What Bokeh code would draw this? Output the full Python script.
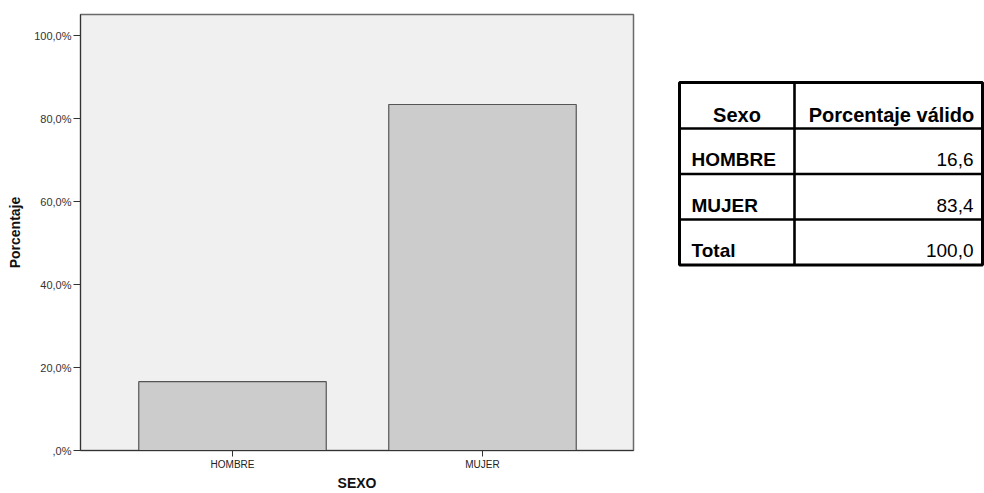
from bokeh.plotting import figure
from bokeh.layouts import row
from bokeh.models import Range1d, FixedTicker, ColumnDataSource
from bokeh.core.properties import value
from bokeh.embed import file_html
from bokeh.resources import INLINE

# ---- data ----
categories = ["HOMBRE", "MUJER"]
percentages = [16.6, 83.4]
y_ticks = [0, 20, 40, 60, 80, 100]
y_tick_labels = [",0%", "20,0%", "40,0%", "60,0%", "80,0%", "100,0%"]
table_header = ["Sexo", "Porcentaje válido"]
table_rows = ["HOMBRE", "MUJER", "Total"]
table_values = [16.6, 83.4, 100.0]

FONT = "Liberation Sans"

H = 493
W1 = 640
W2 = 984 - W1
BT, BB = 14, 43   # top / bottom borders shared by both figures

# ---- bar chart ----
xs = list(range(1, len(categories) + 1))
p = figure(width=W1, height=H, output_backend="svg", toolbar_location=None,
           x_range=Range1d(0.392, 2.604), y_range=Range1d(0, 105.1),
           min_border_left=80, min_border_right=7, min_border_top=BT, min_border_bottom=BB)
p.background_fill_color = "#f0f0f0"
p.border_fill_color = "white"
p.outline_line_color = "#6a6a6a"
p.outline_line_width = 1.5
p.grid.visible = False

src = ColumnDataSource(dict(x=xs, top=percentages))
p.vbar(x="x", top="top", bottom=0, width=0.75, source=src,
       fill_color="#cccccc", line_color="#555555", line_width=1.2)

p.xaxis.ticker = FixedTicker(ticks=xs)
p.xaxis.major_label_overrides = {x: c for x, c in zip(xs, categories)}
p.xaxis.minor_tick_line_color = None
p.xaxis.major_tick_in = 0
p.xaxis.major_tick_out = 6
p.xaxis.major_label_standoff = 2
p.xaxis.major_label_text_font = FONT
p.xaxis.major_label_text_font_size = "10px"
p.xaxis.major_label_text_color = "#222222"
p.xaxis.axis_label = "SEXO"
p.xaxis.axis_label_text_font = FONT
p.xaxis.axis_label_text_font_style = "bold"
p.xaxis.axis_label_text_font_size = "14px"
p.xaxis.axis_label_text_color = "#111111"
p.xaxis.axis_label_standoff = 2
p.xaxis.axis_line_color = "#333333"
p.xaxis.major_tick_line_color = "#333333"

p.yaxis.ticker = FixedTicker(ticks=y_ticks)
p.yaxis.major_label_overrides = {t: l for t, l in zip(y_ticks, y_tick_labels)}
p.yaxis.minor_tick_line_color = None
p.yaxis.major_tick_in = 0
p.yaxis.major_tick_out = 7
p.yaxis.major_label_standoff = 2
p.yaxis.major_label_text_font = FONT
p.yaxis.major_label_text_font_size = "11px"
p.yaxis.major_label_text_color = "#333333"
p.yaxis.axis_label = "Porcentaje"
p.yaxis.axis_label_text_font = FONT
p.yaxis.axis_label_text_font_style = "bold"
p.yaxis.axis_label_text_font_size = "14px"
p.yaxis.axis_label_text_color = "#111111"
p.yaxis.axis_label_standoff = 8
p.yaxis.axis_line_color = "#333333"
p.yaxis.major_tick_line_color = "#333333"

# ---- table (coordinates in page pixels; frame aligned with the chart frame) ----
t = figure(width=W2, height=H, output_backend="svg", toolbar_location=None,
           x_range=Range1d(W1, W1 + W2), y_range=Range1d(H - BB, BT),
           min_border_left=0, min_border_right=0, min_border_top=BT, min_border_bottom=BB)
t.axis.visible = False
t.grid.visible = False
t.outline_line_color = None
t.background_fill_color = "white"
t.border_fill_color = "white"

left, mid, right = 679, 794, 982
top, head_bottom, row_h = 82, 128, 45.5
n = len(table_rows)
bottom = head_bottom + n * row_h

inner_y = [head_bottom + i * row_h for i in range(n)]
t.segment(x0=[left] * n, x1=[right] * n, y0=inner_y, y1=inner_y,
          line_color="black", line_width=2.6)
t.segment(x0=[mid], x1=[mid], y0=[top], y1=[bottom], line_color="black", line_width=2.6)
t.quad(left=[left], right=[right], top=[top], bottom=[bottom],
       fill_color=None, line_color="black", line_width=3)

t.text(x=[(left + mid) / 2, (mid + right) / 2 + 3], y=[head_bottom - 6.5 - 7] * 2, text=table_header,
       text_font=value(FONT), text_font_style="bold", text_font_size="20px",
       text_align="center", text_baseline="middle", text_color="black")
row_mid = [head_bottom + (i + 1) * row_h - 7.5 - 6.7 for i in range(n)]
t.text(x=[left + 12] * n, y=row_mid, text=table_rows,
       text_font=value(FONT), text_font_style="bold", text_font_size="19px",
       text_align="left", text_baseline="middle", text_color="black")
t.text(x=[right - 9] * n, y=row_mid,
       text=[f"{v:.1f}".replace(".", ",") for v in table_values],
       text_font=value(FONT), text_font_size="19px",
       text_align="right", text_baseline="middle", text_color="black")

layout = row(p, t)
open("out.html", "w").write(file_html(layout, INLINE))
